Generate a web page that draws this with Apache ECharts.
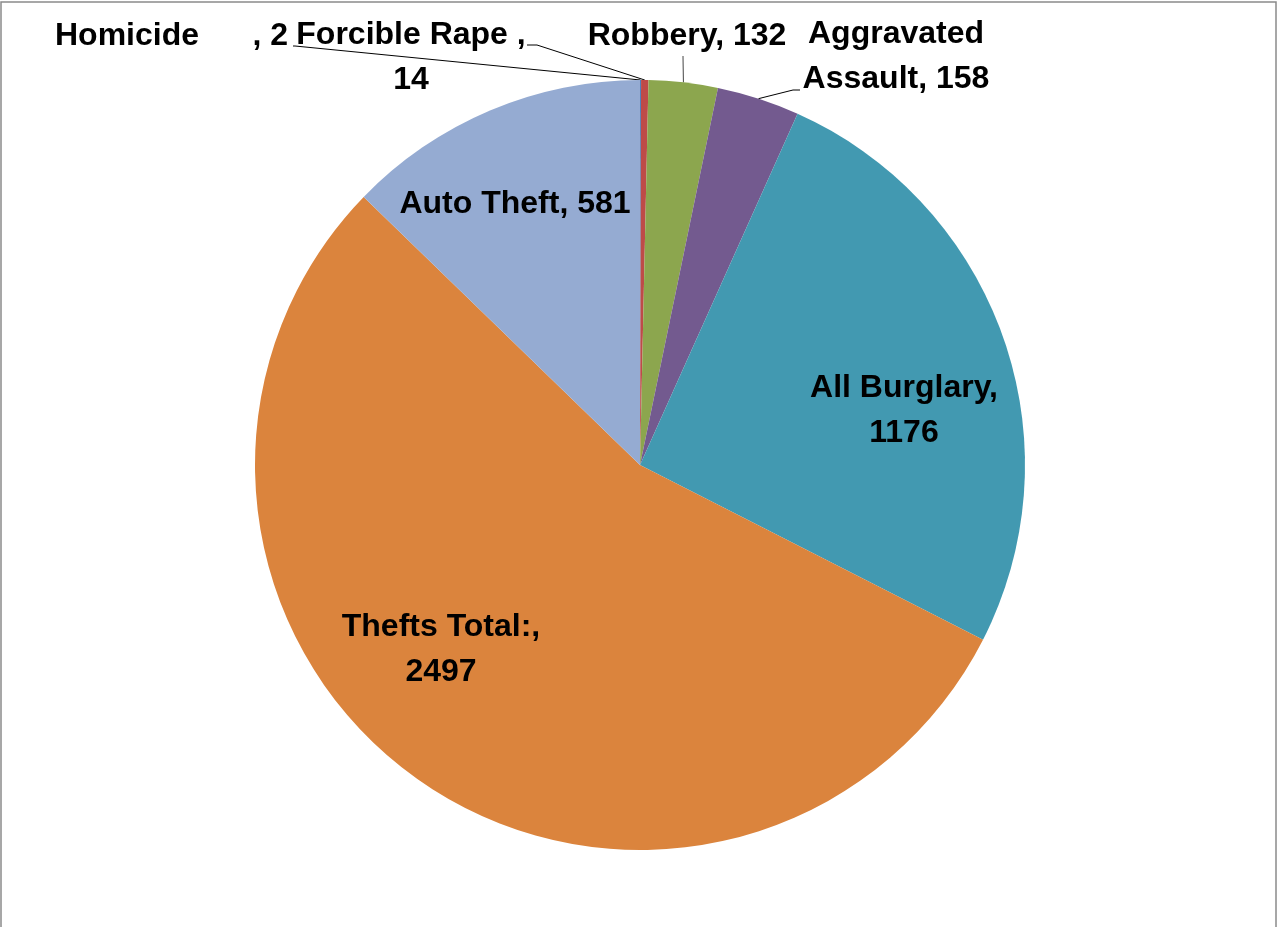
<!DOCTYPE html>
<html>
<head>
<meta charset="utf-8">
<script src="https://cdn.jsdelivr.net/npm/echarts@6/dist/echarts.min.js"></script>
<style>
html,body{margin:0;padding:0;background:#fff;}
#main{width:1278px;height:927px;}
</style>
</head>
<body>
<div id="main"></div>
<script>
const categories = ['Homicide', 'Forcible Rape', 'Robbery', 'Aggravated Assault', 'All Burglary', 'Thefts Total:', 'Auto Theft'];
const values = [2, 14, 132, 158, 1176, 2497, 581];
const colors = ['#4F81BD', '#BE4B48', '#8CA64E', '#735A8F', '#4299B1', '#DB843D', '#95ABD2'];

// label text templates per slice
function labelText(i, name, value) {
  switch (i) {
    case 0: return name + '      , ' + value;
    case 1: return name + ' ,\n' + value;
    case 3: return name.replace(' ', '\n') + ', ' + value;
    case 4:
    case 5: return name + ',\n' + value;
    default: return name + ', ' + value;
  }
}
// label anchor placements (pixels) and leader line knees
const labelPos = [
  {x: 55, y: 36, align: 'left', line: [[295, 46], [293, 46]]},
  {x: 411, y: 58, align: 'center', line: [[537, 45], [527, 45]]},
  {x: 687, y: 36, align: 'center', line: [[683, 57], [683, 56]], lineColor: '#444'},
  {x: 896, y: 57, align: 'center', line: [[793, 90], [800, 90]]},
  {x: 904, y: 411, align: 'center'},
  {x: 441, y: 650, align: 'center'},
  {x: 515, y: 204, align: 'center'}
];

const chart = echarts.init(document.getElementById('main'));
const data = categories.map((c, i) => {
  const outside = i < 4;
  return {
    name: c,
    value: values[i],
    itemStyle: {color: colors[i]},
    label: {position: outside ? 'outside' : 'inside'},
    labelLine: {show: outside, lineStyle: {color: labelPos[i].lineColor || '#000'}}
  };
});

chart.setOption({
  animation: false,
  graphic: [{
    type: 'rect',
    shape: {x: 1, y: 2, width: 1275, height: 960},
    style: {fill: 'none', stroke: '#8a8a8a', lineWidth: 1.5},
    silent: true
  }],
  series: [{
    type: 'pie',
    center: [640, 465],
    radius: 385,
    startAngle: 90,
    clockwise: true,
    avoidLabelOverlap: false,
    data: data,
    itemStyle: {borderWidth: 0},
    label: {
      show: true,
      formatter: p => labelText(p.dataIndex, p.name, p.value),
      fontFamily: 'Liberation Sans',
      fontWeight: 'bold',
      fontSize: 32,
      lineHeight: 45,
      color: '#000',
      align: 'center'
    },
    labelLine: {
      show: true,
      length: 10,
      length2: 10,
      smooth: false,
      lineStyle: {color: '#000', width: 1}
    },
    labelLayout: function (params) {
      const lp = labelPos[params.dataIndex];
      const out = {x: lp.x, y: lp.y, align: lp.align, verticalAlign: 'middle'};
      if (lp.line && params.labelLinePoints) {
        const edge = params.labelLinePoints[0];
        out.labelLinePoints = [edge, lp.line[0], lp.line[1]];
      }
      return out;
    }
  }]
});
</script>
</body>
</html>
